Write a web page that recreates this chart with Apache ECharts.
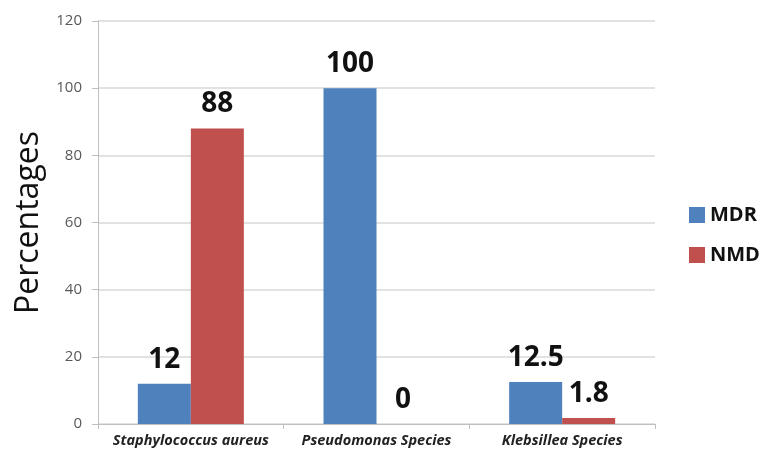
<!DOCTYPE html>
<html>
<head>
<meta charset="utf-8">
<script src="https://cdn.jsdelivr.net/npm/echarts@6/dist/echarts.min.js"></script>
<style>
  html, body { margin: 0; padding: 0; background: #fff; }
  #chart { width: 763px; height: 456px; }
</style>
</head>
<body>
<div id="chart"></div>
<script>
// données
const categories = ['Staphylococcus aureus', 'Pseudomonas Species', 'Klebsillea Species'];
const mdrValues = [12, 100, 12.5];
const nmdValues = [88, 0, 1.8];

const chart = echarts.init(document.getElementById('chart'));

const labelStyle = {
  show: true,
  position: 'top',
  distance: 10,
  color: '#111',
  fontSize: 28,
  fontWeight: 'bold',
  fontFamily: 'Open Sans'
};

const option = {
  animation: false,
  color: ['#4f81bd', '#c0504d'],
  grid: { left: 98, right: 108, top: 21, bottom: 32 },
  legend: {
    orient: 'vertical',
    left: 684,
    top: 200,
    itemWidth: 16,
    itemHeight: 16,
    itemGap: 20,
    icon: 'rect',
    textStyle: { fontSize: 20, fontWeight: 'bold', color: '#111', fontFamily: 'Open Sans' },
    data: ['MDR', 'NMD']
  },
  xAxis: {
    type: 'category',
    data: categories,
    axisLine: { lineStyle: { color: '#bfbfbf' } },
    axisTick: { show: true, interval: 0, length: 5, lineStyle: { color: '#bfbfbf' } },
    axisLabel: {
      interval: 0,
      hideOverlap: false,
      color: '#222',
      fontSize: 14.5,
      fontStyle: 'italic',
      fontWeight: 'bold',
      fontFamily: 'Open Sans',
      margin: 9
    }
  },
  yAxis: {
    type: 'value',
    min: 0,
    max: 120,
    interval: 20,
    name: 'Percentages',
    nameLocation: 'middle',
    nameGap: 52,
    nameTextStyle: { fontSize: 32, color: '#111', fontFamily: 'Open Sans' },
    axisLine: { show: true, lineStyle: { color: '#bfbfbf' } },
    axisTick: { show: true, length: 6, lineStyle: { color: '#bfbfbf' } },
    axisLabel: { color: '#595959', fontSize: 15, fontFamily: 'Open Sans', margin: 16 },
    splitLine: { lineStyle: { color: '#d9d9d9', width: 1.5 } }
  },
  series: [
    {
      name: 'MDR',
      type: 'bar',
      data: mdrValues,
      barWidth: 53,
      barGap: '0%',
      label: labelStyle
    },
    {
      name: 'NMD',
      type: 'bar',
      data: nmdValues,
      barWidth: 53,
      barGap: '0%',
      label: labelStyle
    }
  ]
};

chart.setOption(option);
</script>
</body>
</html>
